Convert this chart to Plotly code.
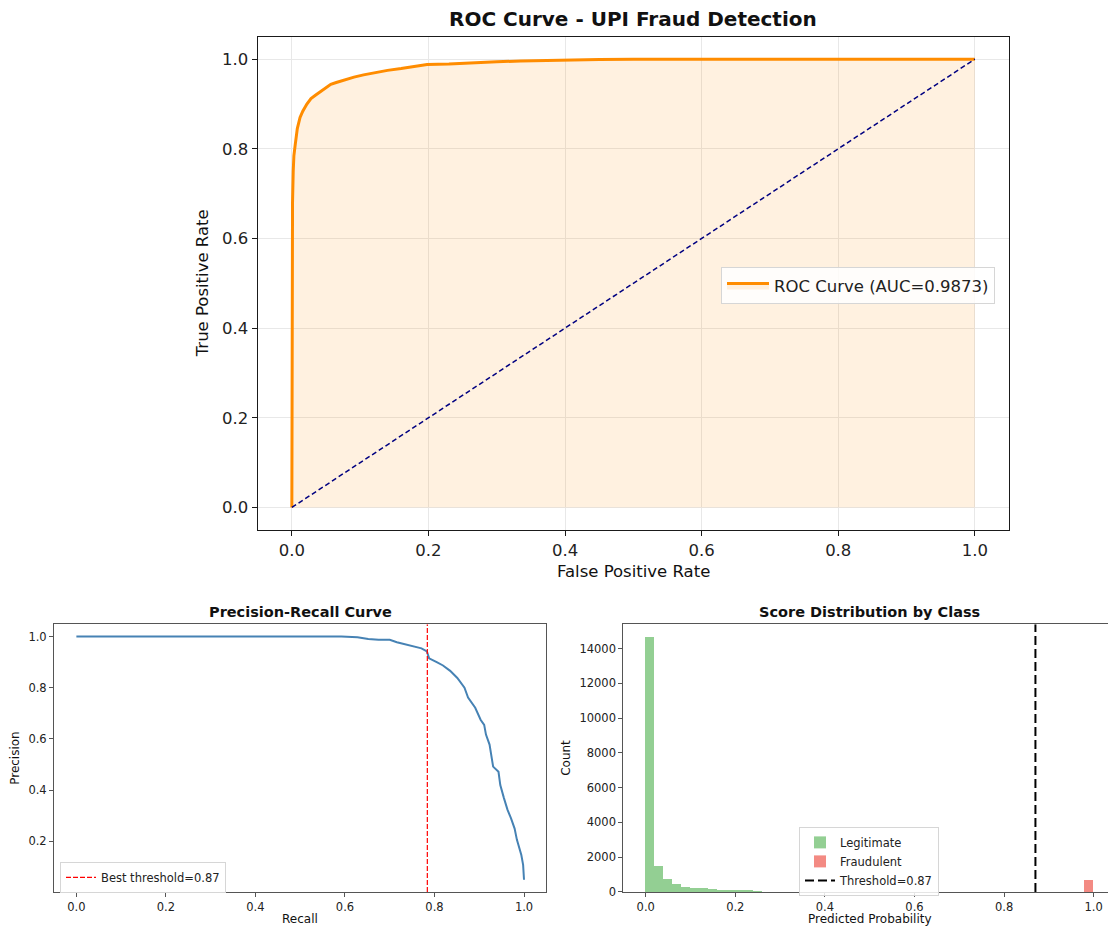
import plotly.graph_objects as go

# ---------------- data ----------------
roc_fpr = [0.0, 0.0, 0.001, 0.002, 0.003, 0.005, 0.008, 0.012, 0.016, 0.022, 0.028, 0.035,
           0.042, 0.050, 0.057, 0.065, 0.075, 0.091, 0.105, 0.120, 0.140, 0.160, 0.180,
           0.198, 0.230, 0.262, 0.300, 0.335, 0.370, 0.403, 0.450, 0.500, 0.700, 1.0]
roc_tpr = [0.0, 0.55, 0.68, 0.75, 0.785, 0.81, 0.845, 0.870, 0.884, 0.900, 0.912, 0.920,
           0.928, 0.936, 0.944, 0.948, 0.953, 0.960, 0.965, 0.970, 0.975, 0.979, 0.984,
           0.988, 0.989, 0.992, 0.994, 0.996, 0.997, 0.999, 0.9995, 1.0, 1.0, 1.0]
roc_auc = 0.9873
diag_x = [0.0, 1.0]
diag_y = [0.0, 1.0]

pr_recall = [0.0, 0.592, 0.628, 0.652, 0.675, 0.700, 0.716, 0.739, 0.757, 0.771, 0.783,
             0.788, 0.805, 0.819, 0.835, 0.851, 0.867, 0.875, 0.891, 0.903, 0.911, 0.915,
             0.923, 0.927, 0.931, 0.943, 0.947, 0.955, 0.963, 0.971, 0.979, 0.984, 0.990,
             0.994, 0.998, 1.0]
pr_precision = [1.0, 1.0, 0.997, 0.990, 0.987, 0.987, 0.978, 0.967, 0.960, 0.954, 0.942,
                0.915, 0.900, 0.887, 0.866, 0.838, 0.800, 0.762, 0.722, 0.675, 0.655, 0.617,
                0.578, 0.540, 0.492, 0.472, 0.420, 0.370, 0.324, 0.290, 0.250, 0.207, 0.167,
                0.147, 0.108, 0.050]
best_threshold = 0.87
best_recall = 0.784

bin_width = 0.02
legit_bin_start = [0.00, 0.02, 0.04, 0.06, 0.08, 0.10, 0.12, 0.14, 0.16, 0.18, 0.20, 0.22, 0.24]
legit_counts = [14650, 1480, 720, 420, 270, 210, 190, 150, 110, 60, 50, 40, 30]
fraud_bin_start = [0.98]
fraud_counts = [650]

unit_ticks = [0.0, 0.2, 0.4, 0.6, 0.8, 1.0]
pr_yticks = [0.2, 0.4, 0.6, 0.8, 1.0]
count_ticks = [0, 2000, 4000, 6000, 8000, 10000, 12000, 14000]

# ---------------- layout helpers ----------------
W = 1108
H_REF = 928      # reference picture height (positions below are read in it)
H_LAYOUT = 936   # layout height (compensates the slight vertical squeeze of the capture)
FONT = "DejaVu Sans"


def px(x):
    return x / W


def py(y):
    return 1 - y / H_REF


fig = go.Figure()

# ROC
fig.add_trace(go.Scatter(
    x=roc_fpr, y=roc_tpr, mode="lines",
    line=dict(color="#ff8c00", width=3),
    fill="tozeroy", fillcolor="rgba(255,140,0,0.12)",
    name=f"ROC Curve (AUC={roc_auc:.4f})",
    xaxis="x", yaxis="y", legend="legend"))
fig.add_trace(go.Scatter(
    x=diag_x, y=diag_y, mode="lines",
    line=dict(color="#000080", width=1.5, dash="5px,3px"),
    showlegend=False, xaxis="x", yaxis="y"))

# PR
fig.add_trace(go.Scatter(
    x=pr_recall, y=pr_precision, mode="lines",
    line=dict(color="#4682b4", width=2),
    showlegend=False, xaxis="x2", yaxis="y2"))
fig.add_trace(go.Scatter(
    x=[best_recall, best_recall], y=[0.0025, 1.0475], mode="lines",
    line=dict(color="#ff0000", width=1.2, dash="5px,2px"),
    name=f"Best threshold={best_threshold:.2f}",
    xaxis="x2", yaxis="y2", legend="legend2"))

# Histogram
fig.add_trace(go.Bar(
    x=legit_bin_start, y=legit_counts, width=bin_width, offset=0,
    marker=dict(color="#93cf93", line=dict(width=0)),
    name="Legitimate", xaxis="x3", yaxis="y3", legend="legend3"))
fig.add_trace(go.Bar(
    x=fraud_bin_start, y=fraud_counts, width=bin_width, offset=0,
    marker=dict(color="#f38a83", line=dict(width=0)),
    name="Fraudulent", xaxis="x3", yaxis="y3", legend="legend3"))
fig.add_trace(go.Scatter(
    x=[best_threshold, best_threshold], y=[0, 15400], mode="lines",
    line=dict(color="black", width=2, dash="9px,4px"),
    name=f"Threshold={best_threshold:.2f}",
    xaxis="x3", yaxis="y3", legend="legend3"))

top_axis = dict(showline=True, linecolor="#1a1a1a", linewidth=1.3, mirror=True,
                ticks="outside", ticklen=5, tickwidth=1, tickcolor="#1a1a1a",
                tickfont=dict(family=FONT, size=16.5, color="#222"),
                showgrid=True, gridcolor="#e8e8e8", gridwidth=1, zeroline=False,
                tickvals=unit_ticks, tickformat=".1f")
bot_axis = dict(showline=True, linecolor="#555", linewidth=1, mirror=True,
                ticks="outside", ticklen=4, tickwidth=1, tickcolor="#555",
                tickfont=dict(family=FONT, size=11.5, color="#222"),
                showgrid=False, zeroline=False)

fig.update_layout(
    width=W, height=H_LAYOUT,
    autosize=False,
    margin=dict(l=0, r=0, t=0, b=0),
    paper_bgcolor="white", plot_bgcolor="white",
    font=dict(family=FONT, color="#222"),
    bargap=0,
    barmode="overlay",
    xaxis=dict(top_axis, domain=[px(257.7), px(1009)], range=[-0.05, 1.05], anchor="y"),
    yaxis=dict(top_axis, domain=[py(529.3), py(36.7)], range=[-0.05, 1.05], anchor="x"),
    xaxis2=dict(bot_axis, domain=[px(54), px(546.4)], range=[-0.05, 1.05], anchor="y2",
                tickvals=unit_ticks, tickformat=".1f"),
    yaxis2=dict(bot_axis, domain=[py(891), py(623.7)], range=[0.0025, 1.0475], anchor="x2",
                tickvals=pr_yticks, tickformat=".1f"),
    xaxis3=dict(bot_axis, domain=[px(623.3), 1.0], range=[-0.05, 1.032], anchor="y3",
                tickvals=unit_ticks, tickformat=".1f"),
    yaxis3=dict(bot_axis, domain=[py(891), py(623.7)], range=[0, 15400], anchor="x3",
                tickvals=count_ticks, tickformat="d", mirror=False),
    legend=dict(x=px(721), y=py(267), xanchor="left", yanchor="top",
                bgcolor="rgba(255,255,255,0.85)", bordercolor="#d6d6d6", borderwidth=1,
                font=dict(family=FONT, size=16.5, color="#222"), itemwidth=42),
    legend2=dict(x=px(60), y=py(861), xanchor="left", yanchor="top",
                 bgcolor="rgba(255,255,255,0.85)", bordercolor="#d6d6d6", borderwidth=1,
                 font=dict(family=FONT, size=11.5, color="#222"), itemwidth=30),
    legend3=dict(x=px(799), y=py(826), xanchor="left", yanchor="top",
                 bgcolor="rgba(255,255,255,0.85)", bordercolor="#d6d6d6", borderwidth=1,
                 font=dict(family=FONT, size=11.5, color="#222"), itemwidth=30,
                 tracegroupgap=0),
)

ann = []


def add_text(text, x, y, size, bold=False, angle=0):
    ann.append(dict(text=f"<b>{text}</b>" if bold else text,
                    x=px(x), y=py(y), xref="paper", yref="paper",
                    xanchor="center", yanchor="middle", showarrow=False,
                    textangle=angle,
                    font=dict(family=FONT, size=size, color="#111")))


add_text("ROC Curve - UPI Fraud Detection", 633.4, 19, 20, bold=True)
add_text("False Positive Rate", 633.4, 571, 16.5)
add_text("True Positive Rate", 202, 283, 16.5, angle=-90)
add_text("Precision-Recall Curve", 300, 611, 14.5, bold=True)
add_text("Recall", 300, 918, 12)
add_text("Precision", 15, 757, 12, angle=-90)
add_text("Score Distribution by Class", 869.5, 611, 14.5, bold=True)
add_text("Predicted Probability", 869.5, 918, 12)
add_text("Count", 566, 757, 12, angle=-90)
fig.update_layout(annotations=ann)

fig.write_html(
    "out.html",
    config={"displayModeBar": False, "responsive": False},
    post_script="document.body.style.margin='0px';document.body.style.overflow='hidden';",
)
